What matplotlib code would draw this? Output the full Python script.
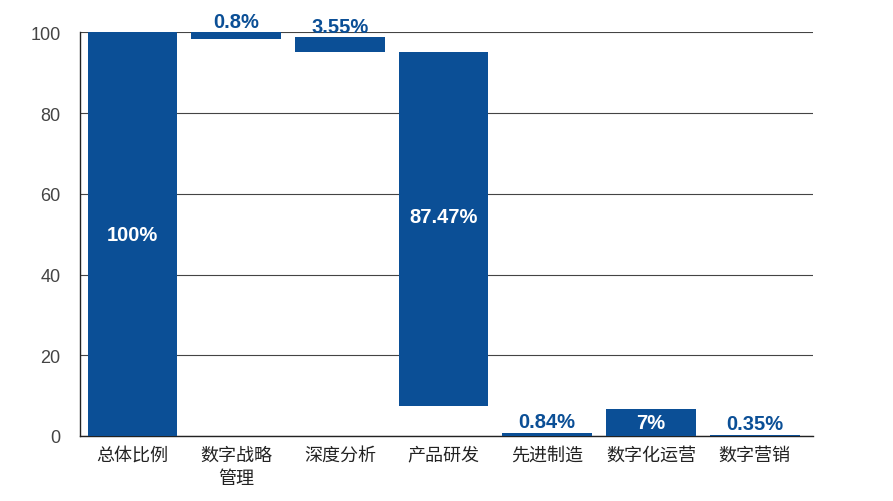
import matplotlib
matplotlib.use("Agg")
import matplotlib.pyplot as plt

categories = ["总体比例", "数字战略\n管理", "深度分析", "产品研发", "先进制造", "数字化运营", "数字营销"]
bar_bottoms = [0, 98.4, 95.2, 7.5, 0, 0, 0]
bar_tops = [100, 100, 98.9, 95.2, 0.84, 6.8, 0.35]
value_labels = ["100%", "0.8%", "3.55%", "87.47%", "0.84%", "7%", "0.35%"]
label_inside = [True, False, False, True, False, True, False]

plt.rcParams['font.family'] = ['Liberation Sans', 'Noto Sans CJK SC', 'DejaVu Sans']

BLUE = "#0b4f96"
fig = plt.figure(figsize=(8.93, 5.02), dpi=100)
ax = fig.add_axes([0.0896, 0.1295, 0.8204, 0.8042])

x = list(range(len(categories)))
heights = [t - b for t, b in zip(bar_tops, bar_bottoms)]
ax.bar(x, heights, bottom=bar_bottoms, width=0.867, color=BLUE, zorder=3)

ax.set_xlim(-0.506, 6.56)
ax.set_ylim(0, 100)
ax.set_yticks([0, 20, 40, 60, 80, 100])
ax.yaxis.grid(True, color="#444444", linewidth=0.8, zorder=0)
ax.tick_params(axis='y', length=0, pad=14, labelsize=13, labelcolor="#444444")
ax.tick_params(axis='x', length=0, pad=7)
ax.set_xticks(x)
ax.set_xticklabels(categories, fontsize=13, color="#222222", linespacing=1.35,
                   family=['Noto Sans CJK SC', 'DejaVu Sans'])

for s in ["top", "right"]:
    ax.spines[s].set_visible(False)
ax.spines["left"].set_color("#222222")
ax.spines["bottom"].set_color("#222222")
ax.spines["left"].set_linewidth(1.0)
ax.spines["bottom"].set_linewidth(1.0)

for i, (lab, inside) in enumerate(zip(value_labels, label_inside)):
    b, t = bar_bottoms[i], bar_tops[i]
    if inside:
        if t - b > 90:
            y = (b + t) / 2
        elif t - b > 20:
            y = b + (t - b) * 0.535
        else:
            y = (b + t) / 2
        ax.text(i, y, lab, ha="center", va="center", color="white",
                fontsize=14.5, fontweight="bold", zorder=5)
    else:
        ax.text(i, t + 0.3, lab, ha="center", va="bottom", color=BLUE,
                fontsize=14.5, fontweight="bold", zorder=5, clip_on=False)

fig.savefig("out.png", dpi=100)
